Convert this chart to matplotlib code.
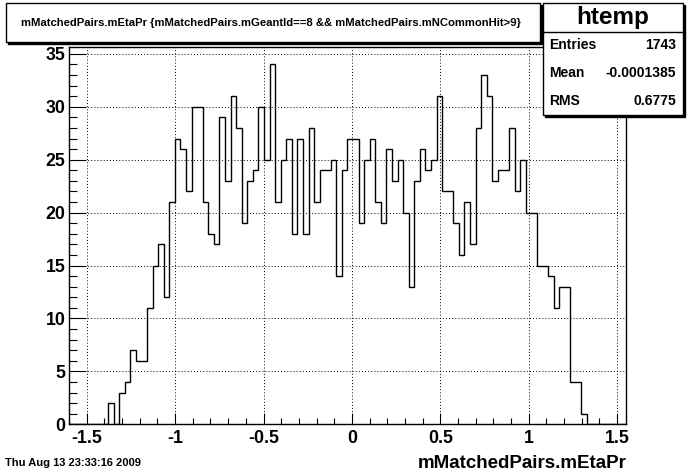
import numpy as np
import matplotlib
matplotlib.use("Agg")
import matplotlib.pyplot as plt
from matplotlib.patches import Rectangle
from matplotlib.ticker import MultipleLocator

#---------------------------------------------------------------------#
# histogram htemp : 100 bins, only bins 7..92 are filled
x_min, x_max, n_bins = -1.6, 1.55, 100
first_bin = 7
counts_filled = [2, 0, 3, 4, 7, 6, 6, 11, 15, 17, 12, 21, 27, 26, 22, 30, 30, 21,
                 18, 17, 29, 23, 31, 28, 19, 23, 24,
                 30, 25, 34, 21, 25, 27, 18, 27, 18, 28, 21, 24, 24, 25, 14, 24,
                 27, 27, 19, 25, 27, 21, 19, 26, 23, 25, 20, 13, 23, 26, 24, 25,
                 31, 22, 22, 19, 16, 21, 17, 28, 33, 31, 23, 24, 24, 28, 22, 25,
                 20, 20, 15, 15, 14, 11, 13, 13, 4, 4, 1]
x_ticks = [-1.5, -1, -0.5, 0, 0.5, 1, 1.5]
x_ticklabels = ["-1.5", "-1", "-0.5", "0", "0.5", "1", "1.5"]

title_text = "mMatchedPairs.mEtaPr {mMatchedPairs.mGeantId==8 && mMatchedPairs.mNCommonHit>9}"
x_title = "mMatchedPairs.mEtaPr"
date_text = "Thu Aug 13 23:33:16 2009"
stat_name = "htemp"
stat_rows = [("Entries", "1743"), ("Mean", "-0.0001385"), ("RMS", "0.6775")]
#---------------------------------------------------------------------#

counts = np.zeros(n_bins)
counts[first_bin:first_bin + len(counts_filled)] = counts_filled
edges = np.linspace(x_min, x_max, n_bins + 1)

W, H = 696, 472
plt.rcParams['font.family'] = ['Liberation Sans', 'DejaVu Sans']
plt.rcParams['font.weight'] = 'bold'

fig = plt.figure(figsize=(W / 100, H / 100), dpi=100)
fig.patch.set_facecolor("white")

def fx(px):
    return px / W

def fy(py):
    return 1 - py / H

# frame in pixels : left 69, right 626, top 46.5, bottom 424.3
ax = fig.add_axes([fx(69), fy(424.3), fx(626) - fx(69), fy(46.5) - fy(424.3)])
ax.stairs(counts, edges, color="black", linewidth=1.0, baseline=0)
ax.set_xlim(x_min, x_max)
ax.set_ylim(0, 1.05 * max(counts))

ax.set_xticks(x_ticks)
ax.set_xticklabels(x_ticklabels)
ax.xaxis.set_minor_locator(MultipleLocator(0.1))
ax.yaxis.set_major_locator(MultipleLocator(5))
ax.yaxis.set_minor_locator(MultipleLocator(1))

ax.tick_params(axis="x", which="major", direction="in", length=8.1, width=0.8,
               labelsize=12.8, pad=4)
ax.tick_params(axis="x", which="minor", direction="in", length=4.1, width=0.8)
ax.tick_params(axis="y", which="major", direction="in", length=12, width=0.8,
               labelsize=12.8, pad=2.5)
ax.tick_params(axis="y", which="minor", direction="in", length=6, width=0.8)
for lab in ax.get_xticklabels() + ax.get_yticklabels():
    lab.set_fontweight("bold")

ax.grid(True, which="major", color="black", linestyle=(0, (1, 2.2)), linewidth=0.7)
for s in ax.spines.values():
    s.set_linewidth(1.0)

# axis title and date
fig.text(fx(627), fy(463), x_title, ha="right", va="center", fontsize=13.5,
         fontweight="bold")
fig.text(fx(5), fy(463), date_text, ha="left", va="center", fontsize=8,
         fontweight="bold")

# title pave (with ROOT like shadow)
fig.patches.append(Rectangle((fx(8), fy(44)), fx(540) - fx(6), fy(3) - fy(42),
                             transform=fig.transFigure, facecolor="black",
                             edgecolor="black", zorder=5))
fig.patches.append(Rectangle((fx(6), fy(42)), fx(540) - fx(6), fy(3) - fy(42),
                             transform=fig.transFigure, facecolor="white",
                             edgecolor="black", linewidth=1.0, zorder=6))
fig.text(fx(271), fy(23), title_text, ha="center", va="center", fontsize=8.1,
         fontweight="bold", zorder=7)

# stat pave
fig.patches.append(Rectangle((fx(545), fy(117)), fx(683) - fx(543), fy(3) - fy(115),
                             transform=fig.transFigure, facecolor="black",
                             edgecolor="black", zorder=5))
fig.patches.append(Rectangle((fx(543), fy(115)), fx(683) - fx(543), fy(3) - fy(115),
                             transform=fig.transFigure, facecolor="white",
                             edgecolor="black", linewidth=1.0, zorder=6))
fig.lines.append(plt.Line2D([fx(543), fx(683)], [fy(32), fy(32)],
                            transform=fig.transFigure, color="black",
                            linewidth=1.0, zorder=7))
fig.text(fx(613), fy(17.5), stat_name, ha="center", va="center", fontsize=17.5,
         fontweight="bold", zorder=7)
for k, (name, val) in enumerate(stat_rows):
    y_row = 45 + 28 * k
    fig.text(fx(549), fy(y_row), name, ha="left", va="center", fontsize=10,
             fontweight="bold", zorder=7)
    fig.text(fx(676), fy(y_row), val, ha="right", va="center", fontsize=10,
             fontweight="bold", zorder=7)

fig.savefig("out.png", dpi=100)
